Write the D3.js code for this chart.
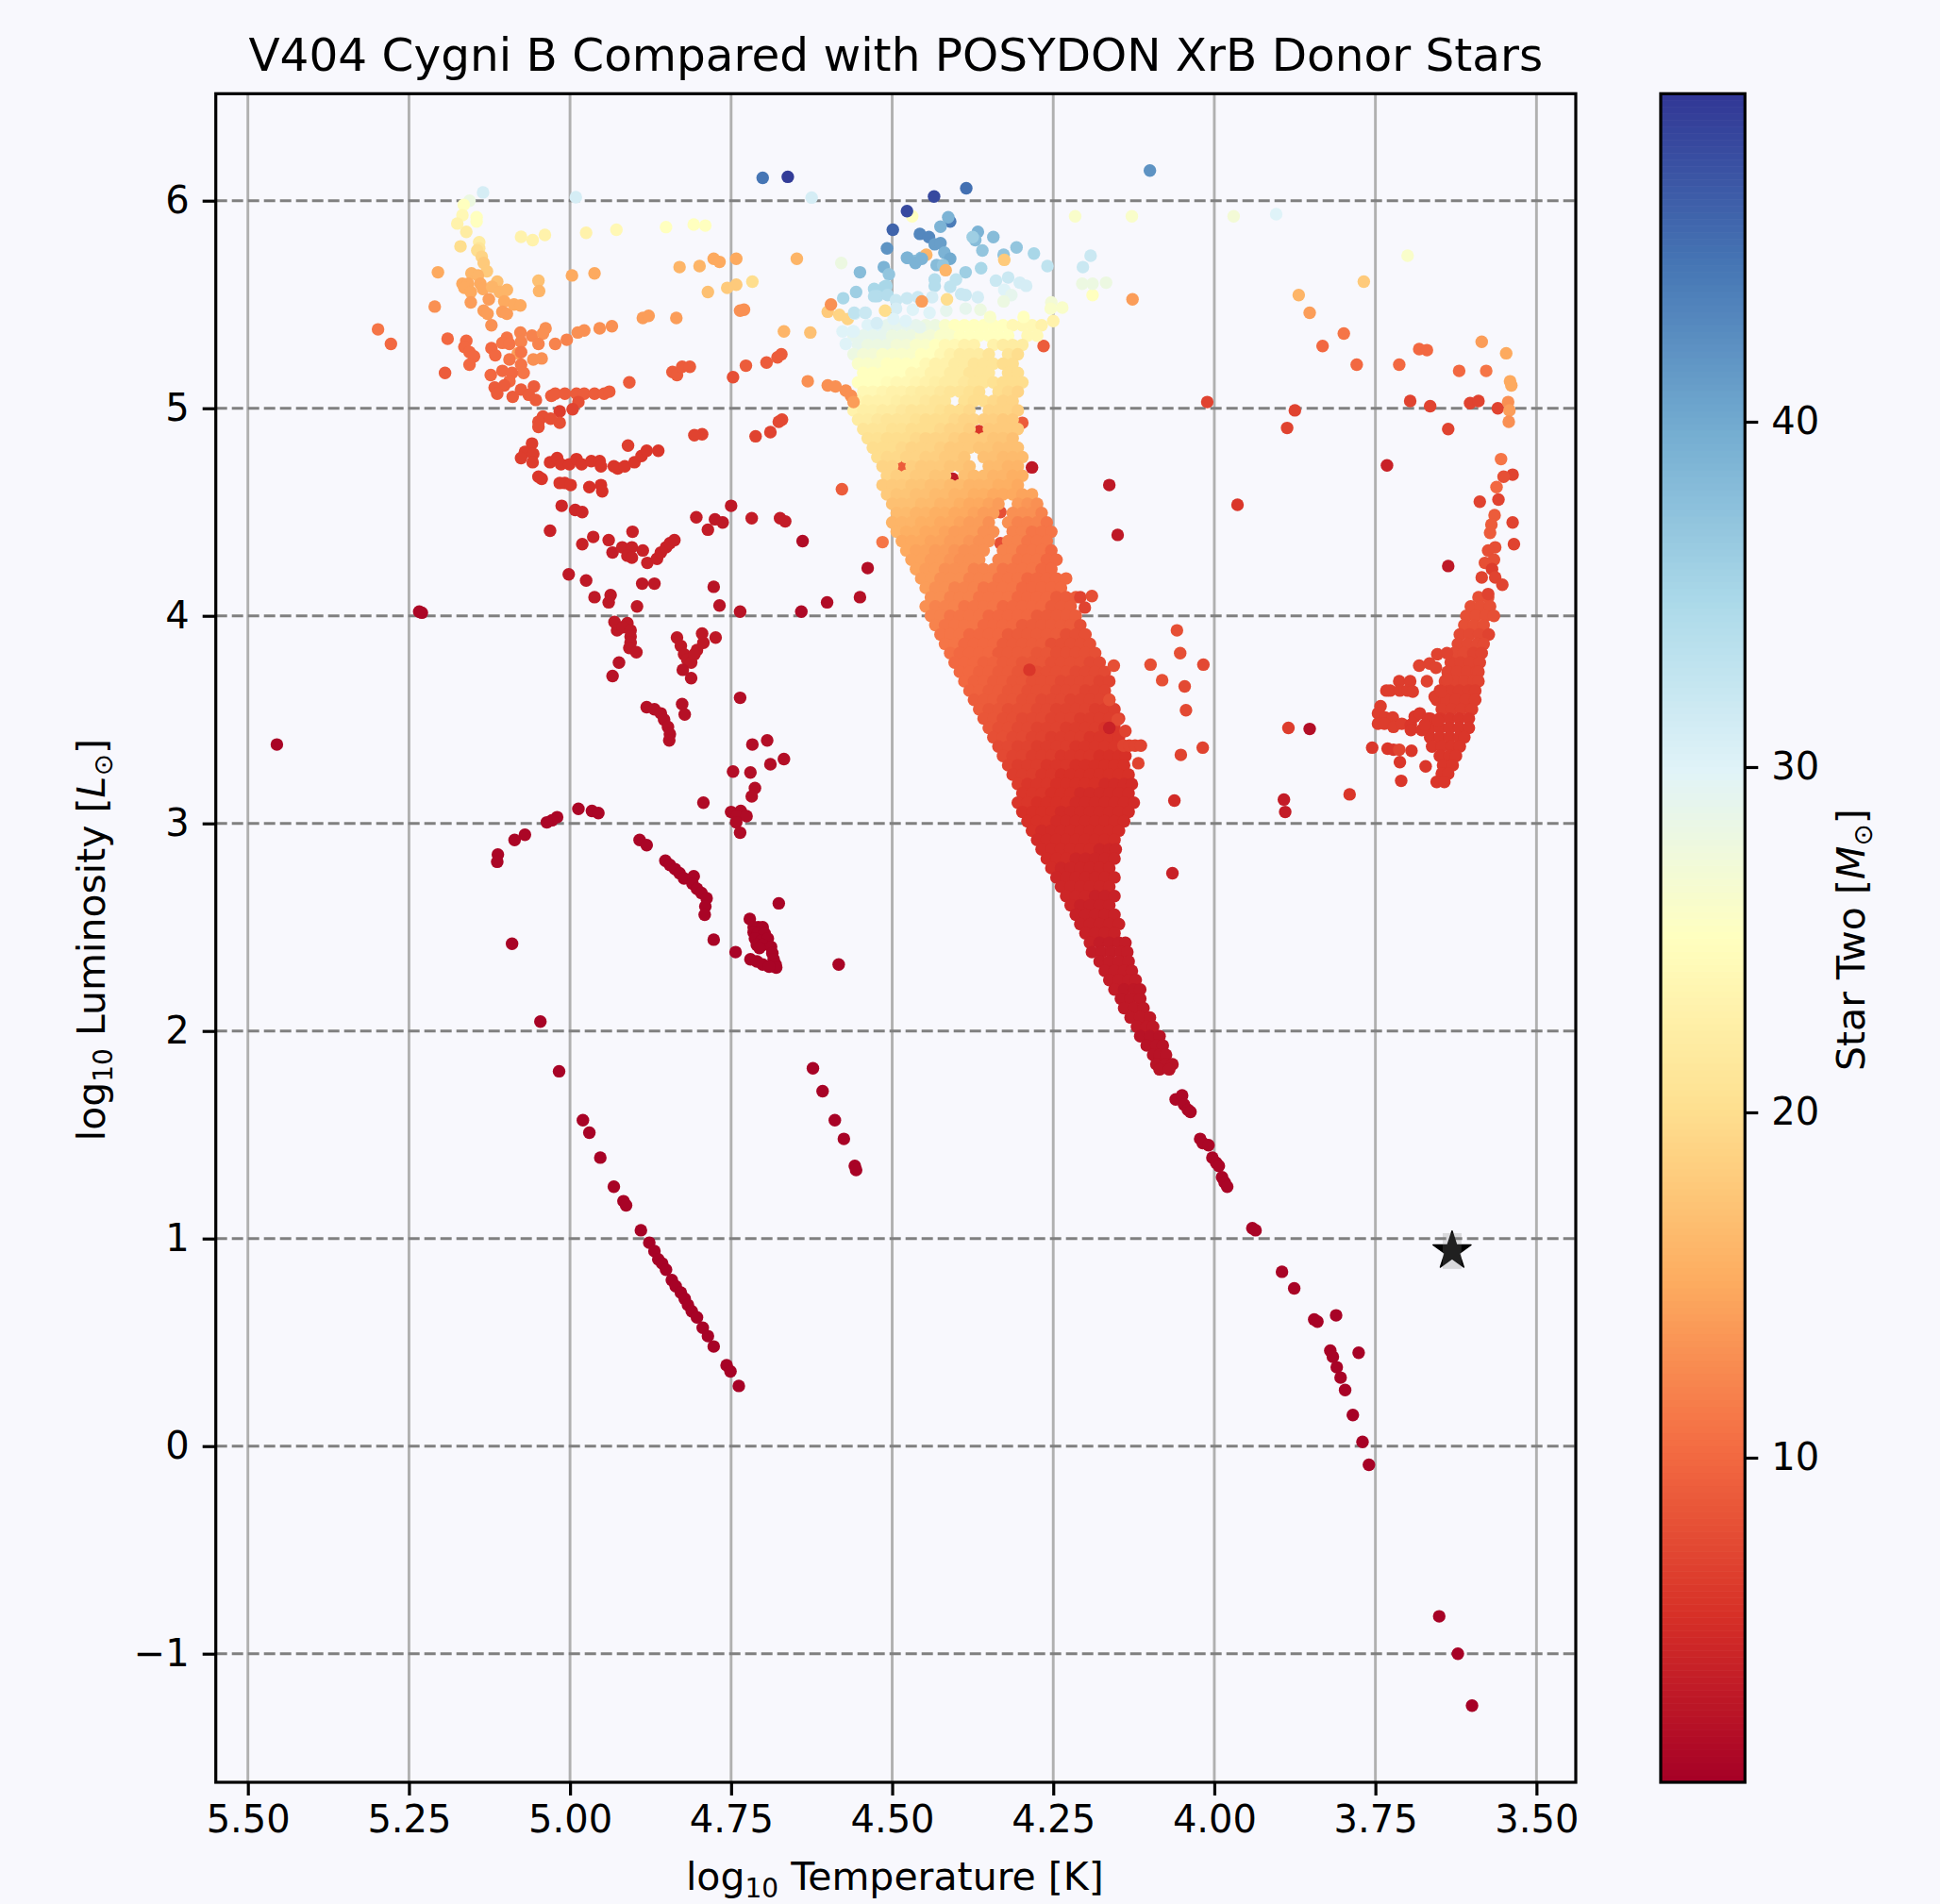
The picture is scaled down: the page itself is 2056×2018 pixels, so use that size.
<!DOCTYPE html>
<html lang="en">

<head>
    <meta charset="UTF-8">
    <title>V404 Cygni B Compared with POSYDON XrB Donor Stars</title>
    <style>
        html,
        body {
            margin: 0;
            padding: 0;
            background: #f8f8fd;
        }

        svg {
            display: block;
            font-family: "DejaVu Sans", sans-serif;
        }
    </style>
</head>

<body>
    <svg id="svg" width="2056" height="2018"></svg>

    <script src="https://d3js.org/d3.v7.min.js"></script>
    <script>
        const xTicks = [5.5, 5.25, 5, 4.75, 4.5, 4.25, 4, 3.75, 3.5]
        const yTicks = [-1, 0, 1, 2, 3, 4, 5, 6]
        const massTicks = [10, 20, 30, 40]

        // points are [log T, log L, star two mass]
        const v404 = [3.631, 0.94]
        const v404Err = [0.0146, 0.086]

        // stars that only peek out from under the main band
        const underBand = [[4.365,4.89,6],[4.406,4.66,3],[4.483,4.72,9],[4.55,5.27,9],[4.425,5.21,12],[4.298,4.93,9],[4.332,4.5,8],[4.313,4.435,8],[4.332,4.35,8],[4.265,5.3,9],[4.39,5.0,10]]

        const hotFan = [[5.135,6.04,31],[5.156,6,28],[5.165,5.98,25],[5.167,5.93,24],[5.145,5.92,25],[5.145,5.9,25],[5.175,5.89,23],[5.161,5.85,22],[5.141,5.8,22],[5.17,5.78,20],[5.141,5.77,21],[5.144,5.76,20],[5.137,5.73,19],[5.134,5.7,18],[5.129,5.66,18],[5.153,5.65,16],[5.143,5.64,16],[5.205,5.655,15],[5.167,5.6,15],[5.158,5.6,15],[5.164,5.58,15],[5.139,5.6,15],[5.135,5.575,15],[5.154,5.56,15],[5.113,5.61,17],[5.121,5.585,16],[5.109,5.56,16],[5.098,5.57,16],[5.102,5.515,15],[5.126,5.525,14],[5.154,5.51,14],[5.134,5.47,14],[5.128,5.455,14],[5.105,5.465,14],[5.098,5.455,14],[5.087,5.5,15],[5.077,5.495,15],[5.122,5.4,13],[5.049,5.615,17],[5.048,5.565,16],[5.21,5.49,13],[5.298,5.38,11],[5.278,5.31,10],[5.19,5.335,10],[5.161,5.325,10],[5.164,5.295,10],[5.156,5.27,10],[5.149,5.25,10],[5.122,5.29,10],[5.116,5.255,10],[5.156,5.21,10],[5.194,5.17,9]]

        const fanSpurs = [[5.098,5.34,11],[5.105,5.315,11],[5.094,5.31,11],[5.077,5.365,12],[5.076,5.32,12],[5.059,5.35,12],[5.038,5.385,13],[5.042,5.36,13],[5.049,5.31,12],[5.023,5.31,12],[5.005,5.33,12],[4.988,5.365,13],[4.978,5.375,13],[4.954,5.385,13],[4.935,5.395,13],[4.887,5.435,14],[4.878,5.445,14],[4.835,5.435,14],[5.081,5.265,14],[5.094,5.235,11],[5.057,5.235,13],[5.044,5.24,13],[5.076,5.27,11],[5.076,5.21,11],[5.072,5.17,11],[5.105,5.18,10],[5.123,5.16,10],[5.09,5.17,10],[5.094,5.13,10],[5.117,5.1,9],[5.102,5.11,9],[5.113,5.07,9],[5.089,5.055,9],[5.076,5.09,9],[5.056,5.105,9],[5.064,5.065,9],[5.053,5.04,9],[5.029,5.06,9],[5.023,5.07,9],[5.008,5.07,9],[4.99,5.07,9],[4.978,5.07,9],[4.962,5.07,9],[4.947,5.07,9],[4.939,5.08,9],[4.908,5.125,9],[4.841,5.175,9],[4.834,5.16,9],[4.826,5.2,9],[4.814,5.2,9],[4.747,5.15,8],[4.727,5.205,9],[4.695,5.22,9],[4.678,5.245,9],[4.672,5.26,9],[4.987,5.03,8],[4.996,4.995,7],[5.016,4.985,6.5],[5.042,4.96,8],[5.049,4.935,8],[5.016,4.93,8],[5.049,4.91,8],[5.03,4.95,8],[4.671,4.945,7.5],[4.676,4.935,7.5],[4.689,4.885,7],[4.712,4.865,7],[4.795,4.875,7],[4.807,4.87,7]]

        const midSpurs = [[4.91,4.82,6.5],[5.059,4.83,6.5],[5.07,4.79,6.5],[5.057,4.78,6.5],[5.076,4.76,6.5],[5.058,4.74,6.5],[5.031,4.74,6],[5.02,4.76,6],[5.014,4.73,6],[5.001,4.73,6],[4.99,4.755,6],[4.982,4.73,6],[4.967,4.745,6],[4.954,4.745,6],[4.952,4.72,6],[4.932,4.72,6],[4.926,4.71,6],[4.915,4.72,6],[4.9,4.74,6],[4.889,4.77,6],[4.881,4.795,6],[4.863,4.795,6],[5.049,4.67,6],[5.044,4.66,6],[5.016,4.64,6],[5.008,4.64,6],[4.999,4.63,6],[4.97,4.62,5.5],[4.952,4.63,5.5],[4.95,4.6,5.5],[4.578,4.61,9],[5.013,4.53,4.5],[4.992,4.51,4.5],[4.981,4.5,4.5],[5.031,4.41,4],[4.75,4.53,3],[4.804,4.475,3.5],[4.775,4.465,3],[4.763,4.45,3],[4.786,4.415,3.5],[4.718,4.47,3.5],[4.674,4.47,3.5],[4.666,4.455,3.5],[4.639,4.36,1.8],[4.515,4.355,11],[4.538,4.23,2],[4.55,4.09,2.2],[4.601,4.065,1.8],[4.641,4.02,1.5],[4.903,4.405,4],[4.964,4.38,4],[4.94,4.365,4],[4.981,4.345,4],[4.934,4.305,3.5],[4.919,4.33,4],[4.904,4.33,4],[4.911,4.29,4],[4.887,4.315,4],[4.904,4.28,4],[4.88,4.255,4],[4.865,4.275,4],[4.859,4.305,4],[4.851,4.33,4],[4.845,4.35,4],[4.838,4.365,4],[5.002,4.2,3],[4.975,4.17,3],[4.888,4.155,3],[4.869,4.155,3],[4.962,4.09,3],[4.937,4.1,3],[4.94,4.065,3],[4.896,4.045,3],[4.777,4.14,2.5],[4.768,4.05,2.5],[4.736,4.02,2.5],[5.23,4.015,1.3],[5.234,4.02,1.3]]

        const lowSpurs = [[4.931,3.97,3],[4.911,3.965,3],[4.927,3.93,3],[4.918,3.945,3],[4.906,3.93,3],[4.906,3.9,3],[4.906,3.87,3],[4.908,3.845,3],[4.897,3.825,3],[4.924,3.775,2.5],[4.934,3.71,2.5],[4.834,3.895,3],[4.828,3.855,3],[4.823,3.815,3],[4.818,3.79,3],[4.812,3.775,3],[4.825,3.74,2.5],[4.812,3.7,2.5],[4.803,3.835,3],[4.807,3.815,3],[4.793,3.87,3],[4.795,3.915,3],[4.774,3.895,3],[4.736,3.605,2],[4.881,3.56,2.2],[4.869,3.55,2.2],[4.859,3.53,2.2],[4.854,3.5,2.2],[4.848,3.465,2.2],[4.845,3.43,2.2],[4.846,3.4,2.2],[4.826,3.575,2.2],[4.822,3.525,2.2],[4.694,3.4,2],[4.717,3.38,2],[4.668,3.31,2],[4.689,3.285,2],[4.72,3.245,2],[4.747,3.25,2],[4.713,3.17,2],[4.718,3.13,2],[4.793,3.1,1.7],[4.75,3.055,1.7],[4.735,3.06,1.7],[4.741,3.035,1.7],[4.726,3.035,1.7],[4.742,3.005,1.7],[4.736,2.955,1.7],[4.987,3.07,1.2],[4.966,3.06,1.2],[4.956,3.05,1.2],[5.02,3.03,1.2],[5.028,3.015,1.2],[5.036,3.005,1.2],[5.07,2.945,1.2],[5.086,2.92,1.2],[5.112,2.85,1.2],[5.113,2.815,1.2],[4.892,2.92,1.1],[4.881,2.895,1.1],[4.852,2.82,1],[4.845,2.8,1],[4.837,2.78,1],[4.83,2.76,1],[4.823,2.735,1],[4.808,2.745,1.1],[4.81,2.71,1],[4.803,2.685,1],[4.796,2.665,1],[4.788,2.64,1],[4.79,2.6,1],[4.791,2.56,1],[4.777,2.44,1],[4.743,2.38,1],[4.676,2.615,1],[4.721,2.54,1],[4.583,2.32,1],[5.09,2.42,1],[5.046,2.045,0.9],[4.715,2.5,1],[4.708,2.5,1],[4.701,2.5,1],[4.715,2.475,1],[4.708,2.47,1],[4.698,2.47,1],[4.713,2.445,1],[4.703,2.435,1],[4.693,2.445,1],[4.71,2.415,1],[4.701,2.415,1],[4.688,2.405,1],[4.706,2.4,1],[4.686,2.375,1],[4.684,2.345,1],[4.681,2.32,1],[4.68,2.305,1],[4.72,2.345,1],[4.71,2.335,1],[4.701,2.32,1],[4.691,2.31,1],[5.455,3.38,1]]

        const heliumLine = [[5.017,1.806,0.9],[4.98,1.57,0.9],[4.97,1.51,0.9],[4.953,1.39,0.9],[4.932,1.25,0.9],[4.917,1.18,0.9],[4.913,1.16,0.9],[4.89,1.04,0.8],[4.877,0.98,0.8],[4.869,0.94,0.8],[4.863,0.9,0.8],[4.857,0.88,0.8],[4.851,0.85,0.8],[4.842,0.8,0.8],[4.836,0.77,0.8],[4.828,0.74,0.8],[4.822,0.71,0.8],[4.817,0.68,0.8],[4.811,0.65,0.8],[4.803,0.62,0.8],[4.794,0.57,0.8],[4.786,0.53,0.8],[4.777,0.48,0.8],[4.757,0.39,0.8],[4.751,0.36,0.8],[4.738,0.29,0.8],[4.623,1.82,0.9],[4.608,1.71,0.9],[4.589,1.57,0.9],[4.575,1.48,0.9],[4.558,1.35,0.9],[4.556,1.33,0.9]]

        const lowTail = [[4.06,1.67,1.4],[4.05,1.69,1.4],[4.047,1.645,1.4],[4.041,1.62,1.4],[4.037,1.61,1.4],[4.022,1.48,1.2],[4.018,1.46,1.2],[4.009,1.45,1.2],[4.003,1.39,1.2],[3.997,1.365,1.2],[3.993,1.35,1.2],[3.988,1.295,1.1],[3.984,1.27,1.1],[3.98,1.25,1.1],[3.941,1.05,1],[3.936,1.04,1],[3.895,0.84,1],[3.876,0.76,1],[3.845,0.61,0.9],[3.84,0.6,0.9],[3.811,0.63,0.9],[3.82,0.46,0.9],[3.816,0.43,0.9],[3.81,0.38,0.9],[3.804,0.33,0.9],[3.797,0.27,0.9],[3.785,0.15,0.8],[3.776,0.45,0.8],[3.77,0.02,0.8],[3.76,-0.09,0.8],[3.651,-0.82,0.8],[3.622,-1,0.8],[3.6,-1.25,0.7]]

        const topCap = [[4.701,6.11,44.5],[4.662,6.115,49],[4.625,6.015,31],[4.991,6.017,31],[5.076,5.826,23],[5.058,5.81,23],[5.039,5.835,23],[4.975,5.845,23],[4.928,5.86,24],[4.851,5.873,25],[4.808,5.885,25],[4.79,5.88,25],[4.997,5.64,15],[4.962,5.65,15],[4.83,5.68,16],[4.799,5.685,16],[4.777,5.72,15],[4.768,5.705,15],[4.742,5.72,15],[4.648,5.72,16],[4.786,5.56,17],[4.756,5.58,18],[4.742,5.595,18],[4.717,5.61,20],[4.736,5.47,13],[4.73,5.475,13],[4.668,5.37,16],[4.627,5.365,17],[4.631,5.13,13],[4.6,5.11,13],[4.588,5.105,13],[4.572,5.085,13],[4.564,5.06,13],[4.56,5.03,14],[4.579,5.7,28],[4.6,5.465,18],[4.582,5.45,19],[4.569,5.43,19],[4.55,5.655,38],[4.556,5.56,36],[4.576,5.53,35],[4.513,5.68,39],[4.505,5.645,37],[4.508,5.77,42],[4.499,5.86,46],[4.469,5.925,25],[4.477,5.95,48],[4.435,6.02,48],[4.457,5.84,43],[4.443,5.825,43],[4.476,5.725,38],[4.455,5.725,38],[4.463,5.71,38],[4.528,5.575,35],[4.512,5.585,35],[4.523,5.54,34],[4.558,5.455,31],[4.541,5.46,31],[4.577,5.37,30],[4.56,5.37,30],[4.572,5.31,30],[4.385,6.06,45],[4.1,6.145,42],[4.41,5.9,44],[4.413,5.92,39],[4.425,5.875,39],[4.434,5.79,41],[4.425,5.795,41],[4.419,5.75,39],[4.41,5.72,40],[4.447,5.74,16],[4.477,5.725,39],[4.464,5.7,39],[4.454,5.72,39],[4.431,5.69,38],[4.421,5.69,37],[4.417,5.665,16],[4.367,5.85,39],[4.371,5.81,38],[4.375,5.825,36],[4.343,5.825,38],[4.36,5.76,37],[4.327,5.74,37],[4.326,5.715,18],[4.307,5.775,37],[4.28,5.745,35],[4.259,5.685,33],[4.192,5.735,32],[4.204,5.68,32],[4.386,5.655,36],[4.362,5.675,35],[4.339,5.615,32],[4.32,5.63,32],[4.302,5.605,31],[4.292,5.59,31],[4.401,5.62,33],[4.434,5.62,34],[4.434,5.59,34],[4.41,5.585,33],[4.393,5.55,32],[4.386,5.545,32],[4.367,5.535,31],[4.326,5.57,30],[4.315,5.545,29],[4.327,5.515,28],[4.509,5.59,35],[4.528,5.54,34],[4.507,5.545,34],[4.494,5.52,32],[4.477,5.53,32],[4.46,5.535,32],[4.438,5.535,31],[4.559,5.46,33],[4.542,5.46,32],[4.524,5.41,31],[4.561,5.37,30],[4.494,5.48,31],[4.468,5.475,30],[4.442,5.46,30],[4.416,5.47,29],[4.386,5.48,29],[4.363,5.475,28],[4.498,5.43,30],[4.479,5.42,30],[4.457,5.39,29],[4.415,5.525,20],[4.454,5.515,14],[4.511,5.47,20],[4.595,5.5,13],[4.348,5.44,26],[4.296,5.44,25],[4.253,5.51,27],[4.236,5.485,26],[4.254,5.48,26],[4.25,5.42,23],[4.216,5.925,26],[4.128,5.925,26],[3.97,5.925,27],[3.904,5.935,30],[3.7,5.735,26],[3.768,5.61,18],[4.189,5.545,25],[4.205,5.6,28],[4.189,5.6,28],[4.168,5.605,28],[4.127,5.525,14]]

        const coolScatter = [[3.869,5.545,16],[3.852,5.46,14],[3.799,5.36,11],[3.832,5.3,10],[3.779,5.21,10],[3.713,5.21,10],[3.682,5.285,10],[3.67,5.28,10],[3.62,5.18,10],[3.585,5.32,14],[3.547,5.265,15],[3.578,5.18,11],[3.541,5.13,15],[3.539,5.11,15],[3.696,5.035,7],[3.665,5.01,7],[3.603,5.025,7],[3.59,5.035,7],[3.56,5,7],[3.544,5.03,13],[3.542,4.99,14],[3.543,4.935,13],[3.637,4.9,7],[4.011,5.03,7],[3.875,4.99,7],[3.887,4.905,7],[3.732,4.725,4],[3.964,4.535,6],[4.163,4.63,3],[4.15,4.39,3],[4.283,4.715,3],[3.555,4.755,11],[3.537,4.68,7],[3.551,4.67,8],[3.562,4.62,10],[3.588,4.55,7],[3.559,4.56,7],[3.565,4.485,9],[3.57,4.44,9],[3.572,4.4,9],[3.537,4.45,7],[3.535,4.345,7],[3.637,4.24,3],[3.564,4.33,8],[3.575,4.315,8],[3.566,4.27,8],[3.58,4.255,8],[3.569,4.225,6.5],[3.585,4.185,7],[3.564,4.185,7],[3.553,4.15,7],[3.575,4.105,7],[3.654,3.815,7],[3.639,3.82,7],[3.666,3.77,7],[3.656,3.75,7],[3.682,3.76,7],[3.67,3.685,7],[3.713,3.685,6.5],[3.696,3.685,6.5],[3.733,3.64,6.5],[3.727,3.64,6.5],[3.712,3.64,6.5],[3.7,3.64,6.5],[3.692,3.635,6.5],[3.658,3.61,6.5],[3.648,3.635,6.5],[3.639,3.695,7],[3.742,3.565,6.5],[3.746,3.53,6.5],[3.735,3.51,6.5],[3.723,3.51,6.5],[3.746,3.48,6.5],[3.736,3.48,6.5],[3.722,3.465,6.5],[3.709,3.48,6.5],[3.695,3.475,6],[3.695,3.45,6],[3.689,3.515,6],[3.681,3.53,6],[3.668,3.505,6],[3.678,3.45,6],[3.673,3.475,6],[3.653,3.495,6],[3.755,3.365,6],[3.731,3.36,6],[3.722,3.355,6],[3.713,3.355,7],[3.694,3.35,6],[3.712,3.295,6],[3.672,3.275,6],[3.71,3.205,6],[3.79,3.14,6],[3.885,3.46,6.5],[3.852,3.455,2],[3.892,3.115,3.5],[3.89,3.055,3.5]]

        const bandScatter = [[4.208,4.09,7],[4.19,4.095,8],[4.201,4.04,7],[4.058,3.93,8],[4.053,3.82,8],[4.156,3.76,8],[4.099,3.765,8],[4.017,3.765,7.5],[4.081,3.69,8],[4.046,3.66,7.5],[4.044,3.545,7.5],[4.163,3.595,8],[4.15,3.5,7.5],[4.138,3.445,7],[4.163,3.46,4],[4.141,3.375,7],[4.132,3.375,7],[4.123,3.375,7],[4.114,3.375,7],[4.118,3.29,7],[4.018,3.365,7],[4.052,3.33,7],[4.062,3.11,5],[4.065,2.76,4],[4.287,3.74,6]]

        // the dense parts, row by row: [log L, log T, mass, log T, mass, ...]
        const mainBand = [
            [5.4, 4.538,30,4.523,30,4.508,29,4.493,29,4.478,29,4.463,29,4.448,28,4.433,28,4.418,26,4.403,25,4.388,25,4.373,25,4.358,25,4.343,25,4.328,25,4.313,24,4.298,24,4.283,24,4.268,23],
            [5.35, 4.56,29,4.545,29,4.53,29,4.515,29,4.5,28,4.485,28,4.47,28,4.455,27,4.44,27,4.425,26,4.41,26,4.395,25,4.38,25,4.365,25,4.35,25,4.335,25,4.32,25,4.29,24,4.275,24],
            [5.305, 4.553,29,4.538,28,4.523,28,4.508,28,4.493,27,4.478,27,4.463,26,4.448,26,4.433,25,4.418,24,4.403,24,4.388,23,4.373,23,4.343,23,4.328,22,4.313,22,4.298,22],
            [5.26, 4.56,28,4.545,27,4.53,27,4.515,26,4.5,26,4.485,26,4.47,26,4.455,25,4.44,25,4.425,24,4.41,23,4.395,22,4.38,22,4.365,22,4.35,21,4.32,21,4.305,20],
            [5.215, 4.553,26,4.538,26,4.523,26,4.508,25,4.493,25,4.478,25,4.463,25,4.448,24,4.433,23,4.418,23,4.403,22,4.388,22,4.373,21,4.358,21,4.343,21,4.328,20,4.313,20],
            [5.17, 4.545,25,4.53,25,4.515,25,4.5,25,4.485,25,4.47,24,4.455,24,4.44,23,4.425,23,4.41,22,4.395,22,4.38,21,4.365,21,4.35,21,4.32,20,4.305,20],
            [5.125, 4.553,25,4.538,25,4.523,25,4.508,24.5,4.493,24,4.478,24,4.463,23.5,4.448,23,4.433,22.5,4.418,22,4.403,22,4.388,21.5,4.373,21,4.358,21,4.343,20.5,4.328,20,4.313,20,4.298,20],
            [5.08, 4.545,24,4.53,24,4.515,23.5,4.5,23,4.485,23,4.47,22.5,4.455,22,4.44,22,4.425,21.5,4.41,21,4.395,21,4.38,20.5,4.365,20,4.335,20,4.32,19.5,4.305,19],
            [5.035, 4.553,23.5,4.538,23,4.523,23,4.508,23,4.493,22.5,4.478,22,4.463,22,4.448,21.5,4.433,21,4.418,21,4.388,20.5,4.373,20,4.358,20,4.343,19.5,4.328,19,4.313,19],
            [4.99, 4.56,23,4.545,22.5,4.53,22.5,4.515,22,4.5,22,4.485,21.5,4.47,21,4.455,21,4.44,21,4.425,20.5,4.41,20,4.395,20,4.38,19.5,4.35,19,4.335,19,4.32,19,4.305,18.5],
            [4.945, 4.553,22,4.538,22,4.523,21.5,4.508,21,4.493,21,4.478,21,4.463,20.5,4.448,20,4.433,20,4.418,20,4.403,19.5,4.388,19,4.373,19,4.358,18.5,4.343,18.5,4.328,18,4.313,18],
            [4.9, 4.545,21,4.53,21,4.515,21,4.5,20.5,4.485,20.5,4.47,20,4.455,20,4.44,20,4.425,19.5,4.41,19,4.395,19,4.38,18.5,4.35,18,4.335,18,4.32,18,4.305,18],
            [4.855, 4.538,20.5,4.523,20.5,4.508,20,4.493,20,4.478,20,4.463,19.5,4.448,19,4.433,19,4.418,19,4.403,18.5,4.388,18,4.373,18,4.358,18,4.343,17.5,4.328,17.5,4.313,17],
            [4.81, 4.53,20,4.515,20,4.5,20,4.485,19.5,4.47,19,4.455,19,4.44,19,4.425,18.5,4.41,18,4.395,18,4.38,18,4.365,17.5,4.35,17.5,4.335,17,4.32,17,4.305,17],
            [4.765, 4.523,20,4.508,19.5,4.493,19.5,4.478,19,4.463,19,4.448,18.5,4.433,18.5,4.418,18,4.403,18,4.388,17.5,4.358,17,4.343,17,4.328,16.5,4.313,16.5,4.298,16.5],
            [4.72, 4.515,19,4.5,19,4.47,18.5,4.455,18,4.44,18,4.425,18,4.41,17.5,4.395,17.5,4.38,17,4.35,16.5,4.335,16.5,4.32,16,4.305,16],
            [4.675, 4.508,19,4.493,18.5,4.478,18.5,4.463,18,4.448,18,4.433,17.5,4.418,17.5,4.388,17,4.373,16.5,4.358,16.5,4.343,16,4.328,16,4.313,15.5,4.298,15.5],
            [4.63, 4.515,18,4.5,18,4.485,18,4.47,17.5,4.455,17.5,4.44,17,4.425,17,4.41,16.5,4.395,16.5,4.38,16,4.365,16,4.35,16,4.335,15.5,4.32,15.5,4.305,15],
            [4.585, 4.508,18,4.493,17.5,4.478,17.5,4.463,17,4.448,17,4.433,16.5,4.418,16.5,4.403,16,4.388,16,4.373,15.5,4.358,15.5,4.343,15,4.328,15,4.313,15,4.298,14.5,4.283,14.5],
            [4.54, 4.5,17,4.485,17,4.47,17,4.455,16.5,4.44,16.5,4.425,16,4.41,16,4.395,15.5,4.38,15,4.365,15,4.35,14.5,4.335,14,4.305,14,4.29,13.5,4.275,13],
            [4.495, 4.493,16.5,4.478,16.5,4.463,16,4.448,16,4.433,15.5,4.418,15.5,4.403,15,4.388,15,4.373,14.5,4.358,14,4.343,14,4.313,13,4.298,13,4.283,13,4.268,12],
            [4.45, 4.5,16,4.485,16,4.47,16,4.455,15.5,4.44,15.5,4.425,15,4.41,15,4.395,14.5,4.38,14,4.365,14,4.35,13,4.32,13,4.305,12,4.29,12,4.275,12,4.26,11],
            [4.405, 4.493,16,4.478,15.5,4.463,15.5,4.448,15,4.433,15,4.418,14.5,4.403,14,4.388,14,4.373,14,4.358,13,4.343,13,4.313,12,4.298,12,4.283,11,4.268,11,4.253,11],
            [4.36, 4.485,15,4.47,15,4.455,15,4.44,14.5,4.425,14.5,4.41,14,4.395,14,4.38,13.5,4.365,13,4.35,13,4.32,12,4.305,12,4.29,11,4.275,11,4.26,11],
            [4.315, 4.478,15,4.463,14.5,4.448,14.5,4.433,14,4.418,14,4.403,13.5,4.388,13,4.373,13,4.358,13,4.328,12,4.313,12,4.298,11,4.283,11,4.268,11,4.253,10],
            [4.27, 4.47,14.5,4.455,14.5,4.44,14,4.425,14,4.41,13.5,4.395,13,4.38,13,4.365,13,4.335,12,4.32,12,4.305,11,4.29,11,4.275,11,4.26,10,4.245,10],
            [4.225, 4.463,14.5,4.448,14,4.433,14,4.418,13,4.403,13,4.388,13,4.373,12,4.358,12,4.343,12,4.328,11,4.313,11,4.298,11,4.283,11,4.268,10,4.253,10],
            [4.18, 4.455,14,4.44,14,4.425,13,4.41,13,4.395,13,4.38,12,4.365,12,4.35,12,4.335,11,4.32,11,4.305,11,4.29,10,4.275,10,4.26,10,4.245,10,4.23,10],
            [4.135, 4.448,14,4.433,13,4.418,13,4.403,12,4.388,12,4.373,12,4.358,11,4.343,11,4.328,11,4.313,11,4.298,10,4.283,10,4.268,10,4.253,10,4.238,10],
            [4.09, 4.44,13,4.425,13,4.41,12,4.395,12,4.38,12,4.365,11,4.35,11,4.335,11,4.32,11,4.305,10,4.29,10,4.275,10,4.26,10,4.245,9,4.23,9,4.215,9],
            [4.045, 4.448,13,4.433,12,4.418,12,4.403,12,4.388,11,4.373,11,4.358,11,4.343,11,4.328,10,4.313,10,4.298,10,4.283,10,4.268,10,4.253,9,4.238,9,4.223,9],
            [4, 4.44,12,4.425,12,4.41,11,4.395,11,4.38,11,4.365,11,4.35,10,4.335,10,4.32,10,4.305,10,4.29,10,4.275,9,4.26,9,4.245,9,4.23,9,4.215,9],
            [3.955, 4.433,12,4.418,11,4.403,11,4.388,11,4.373,11,4.358,10,4.343,10,4.328,10,4.313,10,4.298,9,4.283,9,4.268,9,4.253,9,4.238,9,4.223,9,4.208,8],
            [3.91, 4.425,11,4.41,11,4.395,11,4.38,10,4.365,10,4.35,10,4.335,10,4.32,9,4.305,9,4.29,9,4.275,9,4.26,9,4.245,9,4.23,8,4.215,8,4.2,8],
            [3.865, 4.418,11,4.403,11,4.388,10,4.373,10,4.358,10,4.343,10,4.328,9,4.313,9,4.298,9,4.283,9,4.268,9,4.253,8,4.238,8,4.223,8,4.208,8,4.193,8],
            [3.82, 4.41,10.5,4.395,10,4.38,10,4.365,10,4.35,10,4.335,9,4.32,9,4.305,9,4.29,9,4.275,8.5,4.26,8.5,4.245,8,4.23,8,4.215,8,4.2,8,4.185,8],
            [3.775, 4.403,10,4.388,10,4.373,10,4.358,9.5,4.343,9.5,4.328,9,4.313,9,4.298,8.5,4.283,8.5,4.268,8.5,4.253,8,4.238,8,4.223,8,4.208,8,4.193,7.5,4.178,7.5],
            [3.73, 4.395,10,4.38,10,4.365,9.5,4.35,9.5,4.335,9,4.32,9,4.305,8.5,4.29,8.5,4.275,8,4.26,8,4.245,8,4.23,8,4.215,7.5,4.2,7.5,4.185,7.5,4.17,7.5],
            [3.685, 4.388,10,4.373,9.5,4.358,9.5,4.343,9,4.328,9,4.313,8.5,4.298,8.5,4.283,8,4.268,8,4.253,8,4.238,7.5,4.223,7.5,4.208,7.5,4.193,7.5,4.178,7,4.163,7],
            [3.64, 4.38,9.5,4.365,9.5,4.35,9,4.335,9,4.32,8.5,4.305,8.5,4.29,8,4.275,8,4.26,8,4.245,7.5,4.23,7.5,4.215,7.5,4.2,7,4.185,7,4.17,7],
            [3.595, 4.373,9,4.358,9,4.343,9,4.328,8.5,4.313,8.5,4.298,8,4.283,8,4.268,7.5,4.253,7.5,4.238,7.5,4.223,7,4.208,7,4.193,7,4.178,7,4.163,6.5],
            [3.55, 4.365,9,4.35,8.5,4.335,8.5,4.32,8,4.305,8,4.29,8,4.275,7.5,4.26,7.5,4.245,7,4.23,7,4.215,7,4.2,7,4.185,6.5,4.17,6.5,4.155,6.5],
            [3.505, 4.358,8.5,4.343,8.5,4.328,8,4.313,8,4.298,7.5,4.283,7.5,4.268,7.5,4.253,7,4.238,7,4.223,7,4.208,6.5,4.193,6.5,4.178,6.5,4.163,6.5,4.148,6.5],
            [3.46, 4.35,8.5,4.335,8,4.32,8,4.305,7.5,4.29,7.5,4.275,7,4.26,7,4.245,7,4.23,6.5,4.215,6.5,4.2,6.5,4.185,6.5,4.17,6,4.155,6],
            [3.415, 4.343,8,4.328,8,4.313,7.5,4.298,7.5,4.283,7,4.268,7,4.253,6.5,4.238,6.5,4.223,6.5,4.208,6.5,4.193,6,4.178,6,4.163,6,4.148,6],
            [3.37, 4.335,7.5,4.32,7.5,4.305,7,4.29,7,4.275,6.5,4.26,6.5,4.245,6.5,4.23,6.5,4.215,6,4.2,6,4.185,6,4.17,6,4.155,6,4.14,6],
            [3.325, 4.328,7.5,4.313,7,4.298,7,4.283,6.5,4.268,6.5,4.253,6.5,4.238,6,4.223,6,4.208,6,4.193,6,4.178,5.5,4.163,5.5,4.148,5.5,4.138,5.5],
            [3.28, 4.32,7,4.305,6.5,4.29,6.5,4.275,6.5,4.26,6,4.245,6,4.23,6,4.215,5.5,4.2,5.5,4.185,5.5,4.17,5.5,4.155,5.5,4.14,5.5],
            [3.235, 4.313,6.5,4.298,6.5,4.283,6.5,4.268,6,4.253,6,4.238,5.5,4.223,5.5,4.208,5.5,4.193,5.5,4.178,5.5,4.163,5.5,4.148,5.5,4.133,5.5],
            [3.19, 4.305,6.5,4.29,6,4.275,6,4.26,6,4.245,5.5,4.23,5.5,4.215,5.5,4.2,5.5,4.185,5.5,4.17,5,4.155,5,4.14,5,4.128,5],
            [3.145, 4.298,6,4.283,6,4.268,6,4.253,5.5,4.238,5.5,4.223,5.5,4.208,5,4.193,5,4.178,5,4.163,5,4.148,5,4.133,5],
            [3.1, 4.305,6,4.29,6,4.275,5.5,4.26,5.5,4.245,5.5,4.23,5.5,4.215,5,4.2,5,4.185,5,4.17,5,4.155,5,4.14,5,4.125,5],
            [3.055, 4.298,5.5,4.283,5.5,4.268,5.5,4.253,5.5,4.238,5,4.223,5,4.208,5,4.193,5,4.178,5,4.163,5,4.148,5,4.133,5],
            [3.01, 4.29,5.5,4.275,5.5,4.26,5.5,4.245,5,4.23,5,4.215,5,4.2,5,4.185,5,4.17,5,4.155,5,4.14,5],
            [2.965, 4.283,5.5,4.268,5,4.253,5,4.238,5,4.223,5,4.208,5,4.193,5,4.178,5,4.163,5,4.148,5],
            [2.92, 4.275,5,4.26,5,4.245,5,4.23,5,4.215,5,4.2,5,4.185,5,4.17,5,4.155,5],
            [2.875, 4.268,5,4.253,5,4.238,5,4.223,5,4.208,5,4.193,5,4.178,4.5,4.163,4.5,4.153,4.5],
            [2.83, 4.26,5,4.245,5,4.23,5,4.215,4.5,4.2,4.5,4.185,4.5,4.17,4.5,4.155,4.5],
            [2.785, 4.253,5,4.238,4.5,4.223,4.5,4.208,4.5,4.193,4.5,4.178,4.5,4.163,4.5],
            [2.74, 4.245,4.5,4.23,4.5,4.215,4.5,4.2,4.5,4.185,4.5,4.17,4.5,4.155,4.5],
            [2.695, 4.238,4.5,4.223,4.5,4.208,4.5,4.193,4.5,4.178,4.5,4.163,4.5],
            [2.65, 4.23,4.5,4.215,4.5,4.2,4.5,4.185,4,4.17,4,4.155,4],
            [2.605, 4.223,4.5,4.208,4,4.193,4,4.178,4,4.163,4],
            [2.56, 4.215,4,4.2,4,4.185,4,4.17,4,4.155,4],
            [2.515, 4.208,4,4.193,4,4.178,4,4.163,4,4.148,4],
            [2.47, 4.2,4,4.185,4,4.17,4,4.155,4],
            [2.425, 4.193,4,4.178,3.5,4.163,3.5,4.148,3.5,4.138,3.5],
            [2.38, 4.19,3.5,4.175,3.5,4.16,3.5,4.145,3.5,4.135,3.5],
            [2.335, 4.178,3.5,4.163,3.5,4.148,3.5,4.133,3.5],
            [2.29, 4.17,3.5,4.155,3.5,4.14,3.5,4.128,3.5],
            [2.245, 4.163,3.5,4.148,3.5,4.133,3.5,4.122,3.5],
            [2.2, 4.155,3.5,4.14,3,4.125,3,4.115,3],
            [2.155, 4.145,3,4.13,3,4.115,3],
            [2.11, 4.14,3,4.125,3,4.11,3],
            [2.065, 4.13,3,4.115,3,4.1,3],
            [2.02, 4.12,3,4.105,3,4.095,3],
            [1.975, 4.115,2.5,4.1,2.5,4.085,2.5],
            [1.93, 4.105,2.5,4.09,2.5,4.08,2.5],
            [1.885, 4.095,2.5,4.085,2.5,4.075,2.5],
            [1.84, 4.09,2.5,4.075,2.5,4.065,2.5],
            [1.815, 4.085,2.5,4.07,2.5]
        ]

        const giantBranch = [
            [4.09, 3.59,8,3.575,8],
            [4.045, 3.602,8,3.587,8,3.572,8],
            [4, 3.609,8,3.594,8,3.579,8,3.566,8],
            [3.955, 3.612,8,3.597,8,3.582,8],
            [3.91, 3.619,7.5,3.604,7.5,3.589,7.5,3.574,7],
            [3.865, 3.622,7.5,3.607,7.5,3.592,7.5,3.582,7.5],
            [3.82, 3.628,7.5,3.613,7.5,3.598,7,3.585,7],
            [3.775, 3.633,7,3.618,7,3.603,7,3.588,7],
            [3.73, 3.638,7,3.623,7,3.608,7,3.593,7,3.59,7],
            [3.685, 3.642,7,3.627,7,3.612,7,3.597,7,3.59,7],
            [3.64, 3.65,6.5,3.635,6.5,3.62,6.5,3.605,6.5,3.595,6.5],
            [3.595, 3.655,6.5,3.64,6.5,3.625,6.5,3.61,6.5,3.595,6.5],
            [3.55, 3.647,6.5,3.632,6.5,3.617,6.5,3.602,6.5,3.6,6.5],
            [3.505, 3.665,6,3.65,6,3.635,6,3.62,6,3.605,6],
            [3.46, 3.665,6,3.65,6,3.635,6,3.62,6,3.605,6],
            [3.415, 3.665,6,3.65,6,3.635,6,3.62,6,3.612,6],
            [3.37, 3.662,6,3.647,6,3.632,6,3.619,6],
            [3.325, 3.65,6,3.635,6,3.625,6],
            [3.28, 3.645,6,3.63,6],
            [3.24, 3.647,6,3.637,6],
            [3.2, 3.655,6,3.643,6]
        ]

        const margin = { top: 99.3, right: 386, bottom: 129, left: 228.7 }
        const width = 2056
        const height = 2018
        const bgColor = '#f8f8fd'

        const xscale = d3.scaleLinear()
            .domain([5.5498, 3.439])
            .range([margin.left, width - margin.right])
        const yscale = d3.scaleLinear()
            .domain([-1.6195, 6.5155])
            .range([height - margin.bottom, margin.top])

        // matplotlib RdYlBu is plain linear between the 11 brewer colours
        const massDomain = [0.6, 49.5]
        const rdylbu = d3.piecewise(d3.interpolateRgb, d3.schemeRdYlBu[11])
        const colorScale = d3.scaleSequential(rdylbu).domain(massDomain)

        const svg = d3.select('#svg')
        svg.append('rect').attr('width', width).attr('height', height).attr('fill', bgColor)

        // grid
        const grid = svg.append('g')
        grid.selectAll('line.v')
            .data(xTicks)
            .enter()
            .append('line')
            .attr('class', 'v')
            .attr('x1', d => xscale(d))
            .attr('x2', d => xscale(d))
            .attr('y1', margin.top)
            .attr('y2', height - margin.bottom)
            .attr('stroke', '#b0b0b0')
            .attr('stroke-width', 2.9)
        grid.selectAll('line.h')
            .data(yTicks)
            .enter()
            .append('line')
            .attr('class', 'h')
            .attr('x1', margin.left)
            .attr('x2', width - margin.right)
            .attr('y1', d => yscale(d))
            .attr('y2', d => yscale(d))
            .attr('stroke', '#808080')
            .attr('stroke-width', 2.9)
            .attr('stroke-dasharray', '12,5')

        // unpack the row tables into plain points
        function fromRows(rows) {
            const out = []
            rows.forEach(row => {
                for (let i = 1; i < row.length; i += 2) {
                    out.push([row[i], row[0], row[i + 1]])
                }
            })
            return out
        }

        const points = [].concat(
            underBand, fromRows(mainBand), bandScatter, hotFan, fanSpurs, midSpurs, lowSpurs,
            heliumLine, lowTail, topCap, fromRows(giantBranch), coolScatter)

        svg.append('g')
            .selectAll('circle')
            .data(points)
            .enter()
            .append('circle')
            .attr('cx', d => xscale(d[0]))
            .attr('cy', d => yscale(d[1]))
            .attr('r', 6.7)
            .attr('fill', d => colorScale(d[2]))

        // V404 Cygni B with its error box laid over the star
        svg.append('path')
            .attr('d', d3.symbol(d3.symbolStar, 500)())
            .attr('transform', `translate(${xscale(v404[0])}, ${yscale(v404[1])})`)
            .attr('fill', 'black')
            .attr('stroke', 'black')
            .attr('stroke-width', 1.5)
            .attr('stroke-linejoin', 'round')
        svg.append('rect')
            .attr('x', xscale(v404[0] + v404Err[0]))
            .attr('width', xscale(v404[0] - v404Err[0]) - xscale(v404[0] + v404Err[0]))
            .attr('y', yscale(v404[1] + v404Err[1]))
            .attr('height', yscale(v404[1] - v404Err[1]) - yscale(v404[1] + v404Err[1]))
            .attr('fill', '#808080')
            .attr('opacity', 0.25)

        // axes
        const bottomAxis = d3.axisBottom(xscale)
            .tickValues(xTicks)
            .tickFormat(d3.format('.2f'))
            .tickSize(14)
            .tickPadding(11)
        const leftAxis = d3.axisLeft(yscale)
            .tickValues(yTicks)
            .tickFormat(d3.format('d'))
            .tickSize(14)
            .tickPadding(14)

        svg.append('g')
            .attr('transform', `translate(0, ${height - margin.bottom})`)
            .call(bottomAxis)
        svg.append('g')
            .attr('transform', `translate(${margin.left}, 0)`)
            .call(leftAxis)

        // colorbar
        const barLeft = 1760
        const barRight = 1849.3
        const barScale = d3.scaleLinear()
            .domain(massDomain)
            .range([height - margin.bottom, margin.top])
        const levels = d3.range(256)
        const levelHeight = (height - margin.bottom - margin.top) / 256

        svg.append('g')
            .selectAll('rect')
            .data(levels)
            .enter()
            .append('rect')
            .attr('x', barLeft)
            .attr('width', barRight - barLeft)
            .attr('y', d => height - margin.bottom - (d + 1) * levelHeight)
            .attr('height', levelHeight + 0.6)
            .attr('fill', d => rdylbu((d + 0.5) / 256))

        svg.append('g')
            .attr('transform', `translate(${barRight}, 0)`)
            .call(d3.axisRight(barScale).tickValues(massTicks).tickFormat(d3.format('d')).tickSize(14).tickPadding(14))

        svg.append('rect')
            .attr('x', barLeft)
            .attr('y', margin.top)
            .attr('width', barRight - barLeft)
            .attr('height', height - margin.bottom - margin.top)
            .attr('fill', 'none')
            .attr('stroke', 'black')
            .attr('stroke-width', 3.2)

        // frame of the main axes
        svg.append('rect')
            .attr('x', margin.left)
            .attr('y', margin.top)
            .attr('width', width - margin.right - margin.left)
            .attr('height', height - margin.bottom - margin.top)
            .attr('fill', 'none')
            .attr('stroke', 'black')
            .attr('stroke-width', 3.2)

        svg.selectAll('.domain').remove()
        svg.selectAll('.tick line').attr('stroke', 'black').attr('stroke-width', 3.2)
        svg.selectAll('.tick text').attr('fill', 'black').style('font-size', '40px').style('font-family', '"DejaVu Sans"')

        // labels with sub scripts, parts are [text, kind]
        function mathText(sel, parts) {
            let wasSub = false
            parts.forEach(([text, kind]) => {
                const span = sel.append('tspan').text(text)
                if (kind === 'sub') {
                    span.attr('dy', 8).style('font-size', '28px')
                    wasSub = true
                } else {
                    if (wasSub) span.attr('dy', -8)
                    wasSub = false
                }
                if (kind === 'it') span.style('font-style', 'italic')
            })
        }

        svg.append('text')
            .attr('x', (margin.left + width - margin.right) / 2)
            .attr('y', 75)
            .style('text-anchor', 'middle')
            .style('font-size', '48.5px')
            .text('V404 Cygni B Compared with POSYDON XrB Donor Stars')

        svg.append('text')
            .attr('x', (margin.left + width - margin.right) / 2 - 1)
            .attr('y', 2003)
            .style('text-anchor', 'middle')
            .style('font-size', '41px')
            .call(mathText, [['log'], ['10', 'sub'], [' Temperature [K]']])

        svg.append('text')
            .attr('transform', 'rotate(-90)')
            .attr('x', -(margin.top + height - margin.bottom) / 2 - 2)
            .attr('y', 111)
            .style('text-anchor', 'middle')
            .style('font-size', '41px')
            .call(mathText, [['log'], ['10', 'sub'], [' Luminosity ['], ['L', 'it'], ['\u2299', 'sub'], [']']])

        svg.append('text')
            .attr('transform', 'rotate(-90)')
            .attr('x', -(margin.top + height - margin.bottom) / 2 - 2)
            .attr('y', 1976)
            .style('text-anchor', 'middle')
            .style('font-size', '41px')
            .call(mathText, [['Star Two ['], ['M', 'it'], ['\u2299', 'sub'], [']']])
    </script>
</body>

</html>
